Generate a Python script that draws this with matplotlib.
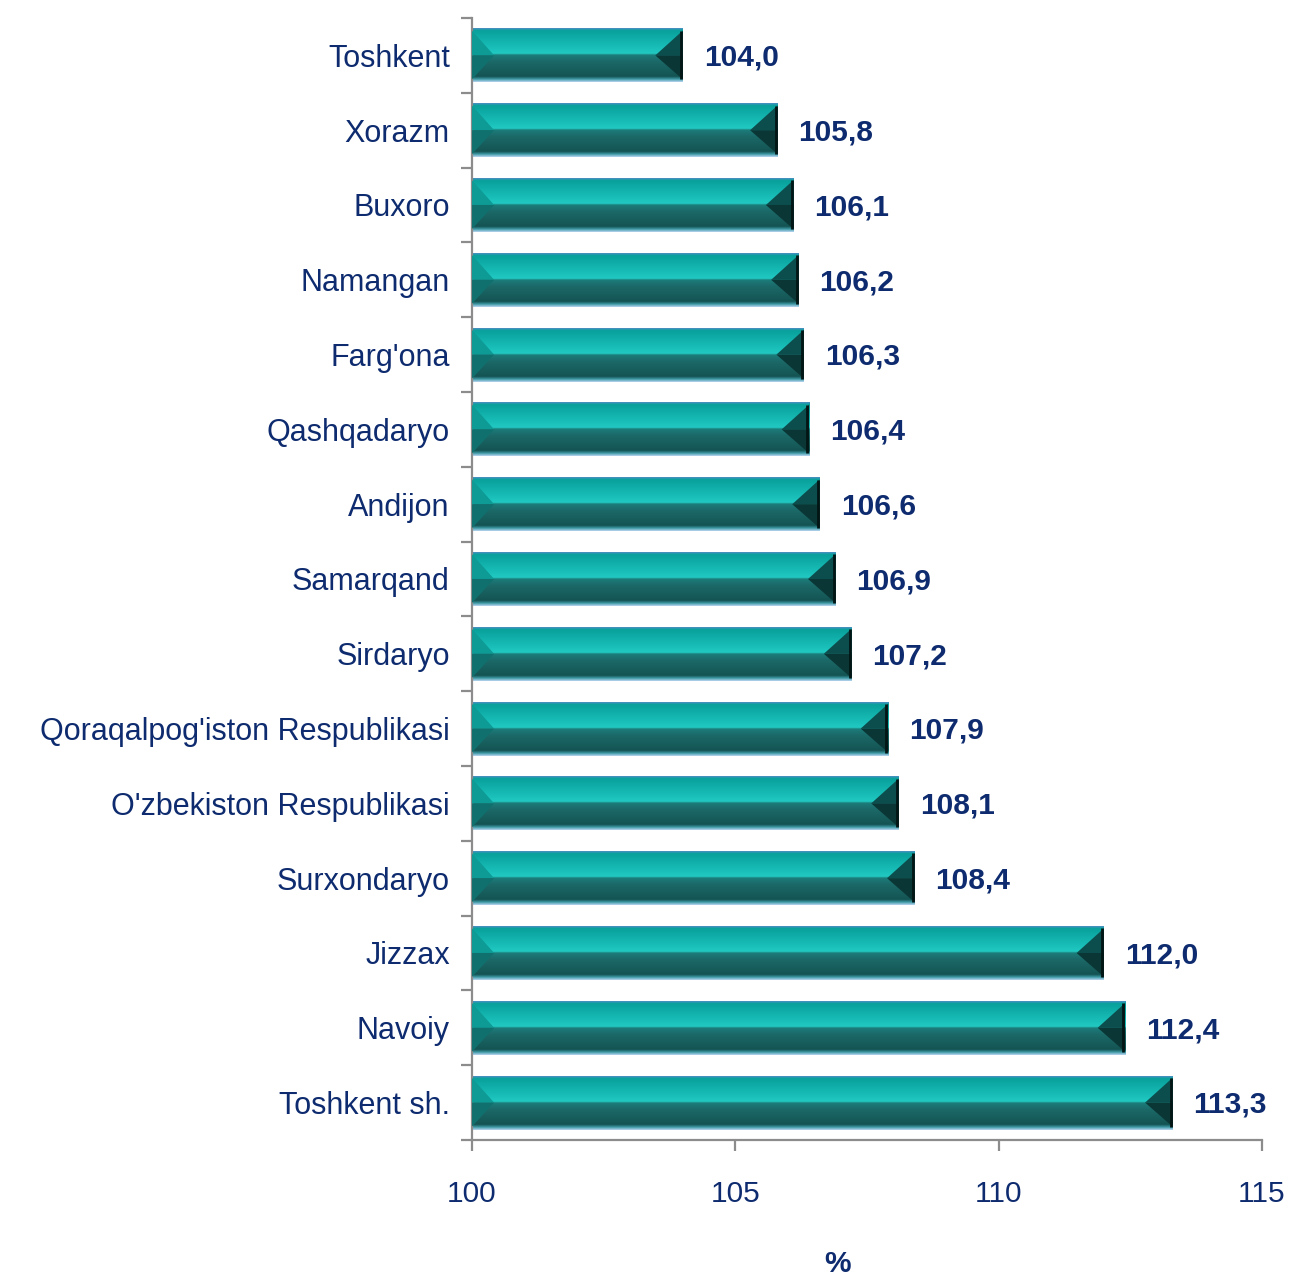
import numpy as np
import matplotlib.pyplot as plt
from matplotlib.colors import LinearSegmentedColormap
from matplotlib.patches import Polygon

plt.rcParams.update({
    "font.family": ["Liberation Sans", "DejaVu Sans"],
    "font.size": 21,
})

regions = [
    "Toshkent", "Xorazm", "Buxoro", "Namangan", "Farg'ona", "Qashqadaryo",
    "Andijon", "Samarqand", "Sirdaryo", "Qoraqalpog'iston Respublikasi",
    "O'zbekiston Respublikasi", "Surxondaryo", "Jizzax", "Navoiy",
    "Toshkent sh.",
]
values = [104.0, 105.8, 106.1, 106.2, 106.3, 106.4, 106.6, 106.9, 107.2,
          107.9, 108.1, 108.4, 112.0, 112.4, 113.3]
xticks = [100, 105, 110, 115]

navy = "#0D2B6E"
grey = "#8C8C8C"

# vertical shading of a bar, top edge -> bottom edge
shade = LinearSegmentedColormap.from_list("bevel", [
    (0.00, "#4D8FC4"), (0.04, "#08A09B"), (0.40, "#1CC2BC"),
    (0.47, "#22C9C3"), (0.50, "#1C7C7A"), (0.62, "#1B6968"),
    (0.90, "#145453"), (0.95, "#3D9AA6"), (1.00, "#B4D2EE"),
])

fig = plt.figure(figsize=(12.95, 12.76), dpi=100)
ax = fig.add_axes([0.3645, 0.1066, 0.6100, 0.8793])

ypos = np.arange(len(regions))
bars = ax.barh(ypos, np.array(values) - 100, left=100, height=0.72,
               color="none", zorder=2)

ax.set_xlim(100, 115)
ax.set_ylim(len(regions) - 0.5, -0.5)

grad = np.linspace(0, 1, 200).reshape(-1, 1)
dl, dr = 0.42, 0.52  # bevel depth in data units
for bar, v in zip(bars, values):
    x0, y0 = bar.get_x(), bar.get_y()
    x1, y1 = x0 + bar.get_width(), y0 + bar.get_height()
    ym = (y0 + y1) / 2
    im = ax.imshow(grad, cmap=shade, aspect="auto", extent=(x0, x1, y1, y0),
                   zorder=2, interpolation="bilinear")
    im.set_clip_path(bar)
    # left bevel
    ax.add_patch(Polygon([(x0, y0 + 0.03), (x0 + dl, ym), (x0, ym)],
                         closed=True, color="#0E9A95", lw=0, zorder=3))
    ax.add_patch(Polygon([(x0, ym), (x0 + dl, ym), (x0, y1 - 0.04)],
                         closed=True, color="#10706D", lw=0, zorder=3))
    # right bevel
    ax.add_patch(Polygon([(x1, y0 + 0.03), (x1 - dr, ym), (x1, ym)],
                         closed=True, color="#0C4E4D", lw=0, zorder=3))
    ax.add_patch(Polygon([(x1, ym), (x1 - dr, ym), (x1, y1 - 0.04)],
                         closed=True, color="#0A3736", lw=0, zorder=3))
    ax.plot([x1 - 0.03, x1 - 0.03], [y0 + 0.03, y1 - 0.04], color="#031615",
            lw=2, zorder=4, solid_capstyle="butt")
    ax.text(v + 0.4, bar.get_y() + bar.get_height() / 2 + 0.03,
            f"{v:.1f}".replace(".", ","), va="center", ha="left",
            fontsize=21.5, fontweight="bold", color=navy)

for s in ["top", "right"]:
    ax.spines[s].set_visible(False)
for s in ["left", "bottom"]:
    ax.spines[s].set_color(grey)
    ax.spines[s].set_linewidth(1.6)

ax.set_yticks(ypos)
ax.set_yticklabels(regions, color=navy, fontsize=22)
ax.set_yticks(np.arange(-0.5, len(regions)), minor=True)
ax.tick_params(axis="y", which="major", length=0, pad=16)
ax.tick_params(axis="y", which="minor", length=8, width=1.6, color=grey,
               direction="out")
for lbl in ax.get_yticklabels():
    lbl.set_va("center_baseline")

ax.set_xticks(xticks)
ax.set_xticklabels([str(t) for t in xticks], color=navy, fontsize=21.5)
ax.tick_params(axis="x", length=8, width=1.6, color=grey, direction="out",
               pad=21)
ax.set_xlabel("%", fontsize=21.5, fontweight="bold", color=navy)
ax.xaxis.set_label_coords(0.463, -0.098)

fig.savefig("out.png", dpi=100)
